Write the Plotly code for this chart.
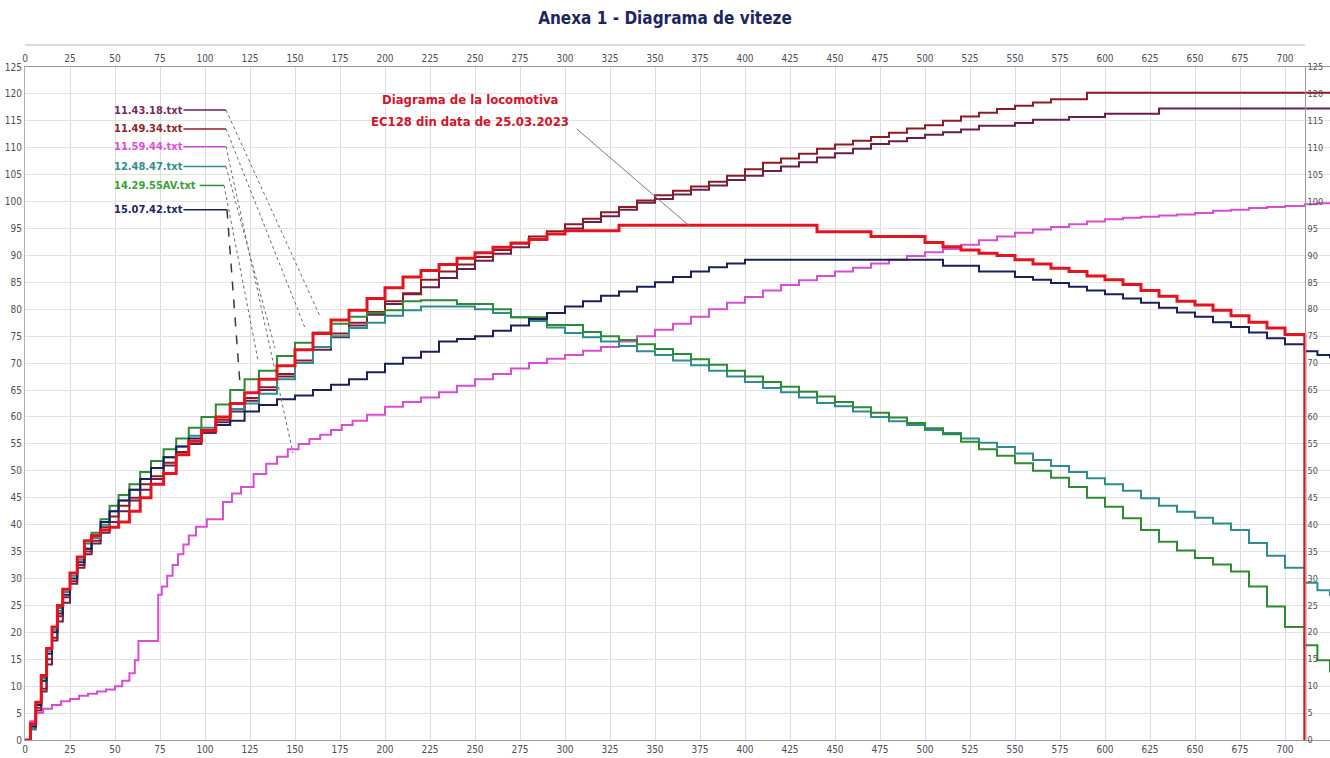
import plotly.graph_objects as go

# ---------------- data ----------------
DIST = [0, 3, 6, 9, 12, 15, 18, 21, 25, 29,
        33, 37, 42, 47, 52, 58, 64, 70, 77, 84,
        91, 98, 106, 114, 122, 130, 140, 150, 160, 170,
        180, 190, 200, 210, 220, 230, 240, 250, 260, 270,
        280, 290, 300, 310, 320, 330, 340, 350, 360, 370,
        380, 390, 400, 410, 420, 430, 440, 450, 460, 470,
        480, 490, 500, 510, 520, 530, 540, 550, 560, 570,
        580, 590, 600, 610, 620, 630, 640, 650, 660, 670,
        680, 690, 700, 711]
DIST_EXT = DIST + [718, 725]

LOCO_X = DIST + [711]
LOCO_V = [0, 3, 7, 12, 17, 21, 25, 28, 31, 34,
          37, 38, 39, 39.5, 40.5, 42.5, 45, 47.5, 49.5, 53,
          55.5, 57.5, 60, 62.5, 64.5, 67, 69.5, 72.5, 75.5, 78,
          79.8, 82, 84, 86, 87.2, 88.3, 89.5, 90.5, 91.5, 92.3,
          93, 94, 94.6, 94.6, 94.6, 95.6, 95.6, 95.6, 95.6, 95.6,
          95.6, 95.6, 95.6, 95.6, 95.6, 95.6, 94.4, 94.4, 94.4, 93.5,
          93.5, 93.5, 92.4, 91.6, 91, 90.4, 90, 89.2, 88.4, 87.6,
          87, 86.2, 85.5, 84.6, 83.5, 82.4, 81.5, 80.8, 79.8, 78.8,
          77.6, 76.5, 75.3, 74.2, 0]

V_114318 = [0, 2, 5.5, 9, 14, 18.5, 22, 25.5, 29, 32,
            34.5, 36.5, 38.5, 40.5, 42.5, 44.5, 46.5, 48.5, 51, 53,
            55, 57, 59, 61, 63, 65, 67.5, 70, 72.5, 74.8,
            77, 79, 81, 82.8, 84.1, 85.8, 87.5, 89, 90.3, 91.5,
            92.9, 94, 95, 96.2, 97.3, 98.5, 99.8, 100.5, 101.3, 102.2,
            103, 104, 104.8, 105.7, 106.5, 107.3, 108.2, 109, 109.8, 110.7,
            111.2, 111.8, 112.4, 112.9, 113.4, 114.1, 114.1, 114.6, 115.2, 115.2,
            115.7, 115.7, 116.3, 116.3, 116.3, 117.3, 117.3, 117.3, 117.3, 117.3,
            117.3, 117.3, 117.3, 117.3, 117.3, 117.3]

V_114934 = [0, 2.5, 6, 9.5, 15, 19, 23, 26.5, 29.5, 32.5,
            35, 37, 39.5, 41.5, 43.5, 45, 47.5, 49, 51.5, 53.5,
            55.5, 57.5, 59.5, 61.5, 63.5, 65.5, 68, 70.5, 73, 75.5,
            77.5, 79.5, 81.5, 83, 85.5, 87, 88.3, 89.7, 91, 92.2,
            93.5, 94.5, 95.8, 96.8, 98, 99, 100.2, 101.2, 102, 102.8,
            103.7, 104.8, 106, 107.2, 108, 108.9, 109.8, 110.6, 111.3, 112,
            112.8, 113.6, 114.2, 115, 115.8, 116.5, 117.2, 117.8, 118.4, 119,
            119, 120.2, 120.2, 120.2, 120.2, 120.2, 120.2, 120.2, 120.2, 120.2,
            120.2, 120.2, 120.2, 120.2, 120.2, 120.2]

PINK_X = [0, 3, 6, 10, 15, 20, 25, 30, 35, 40,
          45, 50, 54, 58, 61, 63, 74, 76, 79, 82,
          85, 88, 91, 95, 101, 110, 115, 120, 127, 134,
          140, 146, 152, 158, 164, 170, 176, 182, 190, 200,
          210, 220, 230, 240, 250, 260, 270, 280, 290, 300,
          310, 320, 330, 340, 350, 360, 370, 380, 390, 400,
          410, 420, 430, 440, 450, 460, 470, 480, 490, 500,
          510, 520, 530, 540, 550, 560, 570, 580, 590, 600,
          610, 620, 630, 640, 650, 660, 670, 680, 690, 700,
          711, 718, 725]
V_115944 = [0, 3.5, 5, 5.8, 6.5, 7.2, 7.6, 8.2, 8.6, 9,
            9.4, 10, 11, 12.4, 14.8, 18.4, 27, 28.5, 30.5, 32.5,
            34.5, 36.3, 38, 39.6, 41, 44.2, 45.8, 47, 49.4, 51.3,
            52.6, 54, 55, 55.9, 56.7, 57.6, 58.5, 59.3, 60.4, 61.9,
            62.8, 63.6, 64.6, 65.8, 67, 68, 69, 70, 70.8, 71.5,
            72.3, 73, 74, 75, 76.2, 77.3, 78.6, 80, 81.2, 82.3,
            83.5, 84.5, 85.4, 86.2, 87, 87.7, 88.5, 89.2, 89.9, 90.6,
            91.2, 92, 92.8, 93.5, 94.2, 94.8, 95.3, 95.8, 96.3, 96.7,
            97, 97.2, 97.4, 97.6, 97.9, 98.3, 98.5, 98.8, 99, 99.2,
            99.5, 99.7, 99.9]

V_124847 = [0, 2, 6.5, 11, 16.5, 20.5, 24, 27.5, 30.5, 33.5,
            35.5, 37.5, 40, 42.5, 44.5, 46.5, 48.5, 50.5, 52.5, 54.5,
            56.5, 58, 60, 61.5, 62.5, 64.3, 67, 70, 73, 75,
            76.5, 77.5, 78.8, 79.8, 80.5, 80.5, 80.5, 80, 79.3, 78.5,
            77.8, 76.6, 75.6, 74.8, 74, 73.2, 72.2, 71.5, 70.5, 69.6,
            68.6, 67.5, 66.5, 65.4, 64.6, 63.6, 62.6, 62, 61, 60,
            59.2, 58.5, 57.6, 57, 56, 55.2, 54.4, 53.2, 52, 50.9,
            49.8, 48.6, 47.5, 46.3, 44.9, 43.5, 42.4, 41.3, 40.2, 39,
            36.6, 34.2, 32, 29.2, 27.8, 26.8]

V_142955 = [0, 3, 7, 11.5, 17, 21, 24.5, 28, 31, 34,
            36.5, 38.5, 41, 43.5, 45.5, 47.5, 49.8, 51.8, 54, 56,
            58, 60, 62.3, 65, 67, 68.6, 71.3, 73.8, 75.7, 77.3,
            78.6, 79.3, 79.8, 81.5, 81.7, 81.7, 81, 81, 80, 78.5,
            78.5, 77.1, 77.1, 75.8, 75, 74.3, 73.5, 72.6, 71.7, 70.7,
            69.7, 68.6, 67.5, 66.5, 65.6, 64.7, 63.8, 62.8, 61.8, 60.8,
            59.9, 58.9, 57.9, 56.8, 55.4, 54, 52.8, 51.4, 50, 48.7,
            47, 45, 43.3, 41.2, 39, 36.8, 35.2, 33.8, 32.6, 31.3,
            28.5, 24.8, 21, 17.6, 14.8, 12.6]

V_150742 = [0, 2.5, 6.5, 11, 16, 20, 23.5, 27, 30, 33,
            35.5, 38, 40.5, 42.5, 44.5, 46.5, 48.5, 50.5, 52.5, 54.5,
            56, 57.5, 58.5, 59.3, 61, 62.2, 63.3, 64, 65, 66,
            67, 68.3, 69.9, 71, 72.1, 74, 74.5, 75, 76, 77,
            78.2, 79.3, 80.5, 81.5, 82.5, 83.3, 84.2, 85, 86, 87,
            87.8, 88.5, 89.2, 89.2, 89.2, 89.2, 89.2, 89.2, 89.2, 89.2,
            89.2, 89.2, 89.2, 88.1, 88.1, 87, 87, 86, 85.5, 84.9,
            84.2, 83.5, 82.8, 82, 81.2, 80.3, 79.4, 78.6, 77.6, 76.7,
            75.7, 74.6, 73.5, 72.2, 71.5, 70.9]

SERIES_NAMES = ["11.43.18.txt", "11.49.34.txt", "11.59.44.txt",
                "12.48.47.txt", "14.29.55AV.txt", "15.07.42.txt"]
LOCO_TEXT = ["Diagrama de la locomotiva", "EC128 din data de 25.03.2023"]
TITLE = "Anexa 1 - Diagrama de viteze"
X_TICKS = [0, 25, 50, 75, 100, 125, 150, 175, 200, 225, 250, 275, 300, 325,
           350, 375, 400, 425, 450, 475, 500, 525, 550, 575, 600, 625, 650,
           675, 700]
Y_TICKS = [0, 5, 10, 15, 20, 25, 30, 35, 40, 45, 50, 55, 60, 65, 70, 75, 80,
           85, 90, 95, 100, 105, 110, 115, 120, 125]

# ---------------- styling ----------------
FONT = "Liberation Sans Narrow, DejaVu Sans Condensed, Liberation Sans, Arial, sans-serif"
COL = {
    "11.43.18.txt": "#6a1f4c",
    "11.49.34.txt": "#8c1c22",
    "11.59.44.txt": "#d64fd2",
    "12.48.47.txt": "#2f8c8f",
    "14.29.55AV.txt": "#2e8b34",
    "15.07.42.txt": "#1b1f5e",
}
LABEL_COL = {
    "11.43.18.txt": "#7a2a5c",
    "11.49.34.txt": "#8a2626",
    "11.59.44.txt": "#d94fd3",
    "12.48.47.txt": "#2f8f8f",
    "14.29.55AV.txt": "#3aa13a",
    "15.07.42.txt": "#1e2462",
}
RED = "#e3141f"
XMAX = 725
W, H = 1330, 758
ML, MT, MB = 25, 67, 18
PLOT_H = H - MT - MB

fig = go.Figure()

series = [
    ("11.43.18.txt", DIST_EXT, V_114318),
    ("11.49.34.txt", DIST_EXT, V_114934),
    ("11.59.44.txt", PINK_X, V_115944),
    ("12.48.47.txt", DIST_EXT, V_124847),
    ("14.29.55AV.txt", DIST_EXT, V_142955),
    ("15.07.42.txt", DIST_EXT, V_150742),
]
for name, xs, ys in series:
    fig.add_trace(go.Scatter(x=xs, y=ys, mode="lines", name=name,
                             line=dict(color=COL[name], width=2, shape="hv"),
                             showlegend=False, hoverinfo="skip"))

fig.add_trace(go.Scatter(x=LOCO_X, y=LOCO_V, mode="lines", name="EC128",
                         line=dict(color=RED, width=3, shape="hv"),
                         showlegend=False, hoverinfo="skip"))

# dummy trace so the top / right mirror axes are drawn
fig.add_trace(go.Scatter(x=[None], y=[None], xaxis="x2", yaxis="y2",
                         showlegend=False, hoverinfo="skip"))

tickfont = dict(family=FONT, size=10, color="#4d4d55")

fig.update_layout(
    width=W, height=H,
    margin=dict(l=ML, r=0, t=MT, b=MB),
    paper_bgcolor="white", plot_bgcolor="white",
    title=dict(text="<b>" + TITLE + "</b>", x=0.5, xanchor="center",
               y=1 - 18 / H, yanchor="middle",
               font=dict(family=FONT, size=17, color="#1d2660")),
    xaxis=dict(range=[0, XMAX], tickvals=X_TICKS, showgrid=True,
               gridcolor="#dcdcdc", gridwidth=1, zeroline=False,
               showline=True, linecolor="#9a9a9a", ticks="",
               tickfont=tickfont, automargin=False),
    xaxis2=dict(range=[0, XMAX], tickvals=X_TICKS, overlaying="x", side="top",
                anchor="y", showgrid=False, zeroline=False, showline=True,
                linecolor="#9a9a9a", ticks="", tickfont=tickfont,
                automargin=False),
    yaxis=dict(range=[0, 125], tickvals=Y_TICKS, showgrid=True,
               gridcolor="#e2e2e2", gridwidth=1, zeroline=False,
               showline=True, linecolor="#b0b0b0", ticks="",
               tickfont=tickfont, automargin=False),
    yaxis2=dict(range=[0, 125], tickvals=Y_TICKS, overlaying="y", side="right",
                anchor="free", position=711 / XMAX, showgrid=False,
                zeroline=False, showline=True, linecolor="#9a9a9a", ticks="",
                tickfont=dict(family=FONT, size=9, color="#4d4d55"),
                automargin=False),
)

# band line above the top tick labels
fig.add_shape(type="line", xref="paper", yref="paper",
              x0=0, x1=711 / XMAX, y0=1 + 22 / PLOT_H, y1=1 + 22 / PLOT_H,
              line=dict(color="#b5b5b5", width=1))

# series labels with leader lines
label_rows = [
    # name, label y, segment start x, leader start, leader end, dash
    ("11.43.18.txt", 117.0, 88.0, (111.7, 117.0), (163.9, 78.7), "dot"),
    ("11.49.34.txt", 113.5, 88.0, (111.7, 113.5), (155.6, 76.5), "dot"),
    ("11.59.44.txt", 110.2, 88.0, (111.7, 110.2), (148.9, 53.3), "dot"),
    ("12.48.47.txt", 106.5, 88.0, (111.7, 106.5), (138.9, 72.8), "dot"),
    ("14.29.55AV.txt", 103.0, 97.0, (110.6, 103.0), (129.4, 70.6), "dot"),
    ("15.07.42.txt", 98.5, 88.0, (112.2, 98.5), (119.4, 66.3), "dash"),
]
for name, ly, sx, p0, p1, dash in label_rows:
    fig.add_annotation(x=48.3, y=ly, xref="x", yref="y", text="<b>" + name + "</b>",
                       showarrow=False, xanchor="left", yanchor="middle",
                       font=dict(family=FONT, size=11, color=LABEL_COL[name]))
    fig.add_shape(type="line", xref="x", yref="y", x0=sx, x1=p0[0], y0=ly, y1=ly,
                  line=dict(color=COL[name], width=1.5))
    fig.add_shape(type="line", xref="x", yref="y", x0=p0[0], y0=p0[1],
                  x1=p1[0], y1=p1[1],
                  line=dict(color="#3a3a3a" if dash == "dash" else "#6a6a6a",
                            width=1.5 if dash == "dash" else 1, dash=dash))

# locomotive annotation
fig.add_annotation(x=247, y=118.9, xref="x", yref="y", text="<b>" + LOCO_TEXT[0] + "</b>",
                   showarrow=False, xanchor="center", yanchor="middle",
                   font=dict(family=FONT, size=13, color="#d3132a"))
fig.add_annotation(x=247, y=114.8, xref="x", yref="y", text="<b>" + LOCO_TEXT[1] + "</b>",
                   showarrow=False, xanchor="center", yanchor="middle",
                   font=dict(family=FONT, size=13, color="#d3132a"))
fig.add_shape(type="line", xref="x", yref="y", x0=306.5, y0=113.5, x1=369.4, y1=95.4,
              line=dict(color="#7a7a7a", width=1))

fig.write_html("out.html",
               config={"displayModeBar": False},
               post_script="document.body.style.margin='0px';document.body.style.overflow='hidden';")
